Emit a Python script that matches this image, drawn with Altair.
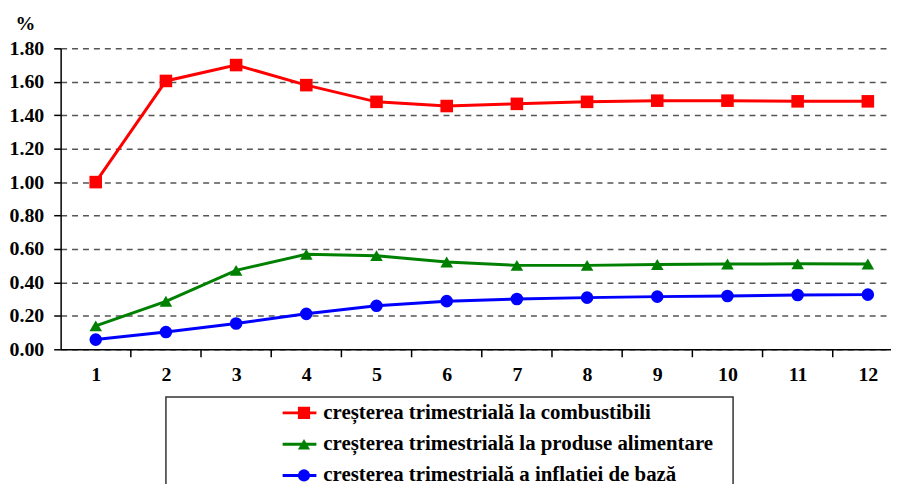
import altair as alt
import pandas as pd

categories = list(range(1, 13))
series_names = [
    "creșterea trimestrială la combustibili",
    "creșterea trimestrială la produse alimentare",
    "cresterea trimestrială a inflatiei de bază",
]
combustibili = [1.00, 1.605, 1.70, 1.58, 1.48, 1.455, 1.468, 1.48, 1.487, 1.487, 1.483, 1.483]
alimentare = [0.14, 0.287, 0.472, 0.568, 0.56, 0.522, 0.502, 0.502, 0.507, 0.51, 0.511, 0.51]
inflatie_baza = [0.058, 0.103, 0.154, 0.212, 0.26, 0.288, 0.301, 0.309, 0.315, 0.319, 0.325, 0.327]
y_ticks = [0.0, 0.2, 0.4, 0.6, 0.8, 1.0, 1.2, 1.4, 1.6, 1.8]

colors = ["#ff0000", "#008000", "#0000ff"]
shapes = ["square", "triangle-up", "circle"]

rows = []
for name, vals in zip(series_names, [combustibili, alimentare, inflatie_baza]):
    for c, v in zip(categories, vals):
        rows.append({"luna": c, "valoare": v, "serie": name})
df = pd.DataFrame(rows)

boundaries = pd.DataFrame({"b": [c + 0.5 for c in categories[:-1]]})

FONT = "Liberation Serif"
FS = 20

x_scale = alt.Scale(domain=[0.5, 12.33], nice=False, zero=False)
y_scale = alt.Scale(domain=[0, 1.8], nice=False)

x_axis = alt.Axis(
    values=categories, format="d", title=None, ticks=False, tickSize=0, grid=False,
    labelFont=FONT, labelFontSize=FS, labelFontWeight="bold", labelColor="#000",
    labelPadding=15, domainColor="#000", domainWidth=1.5, labelFlush=False,
    labelOverlap=False,
)
y_axis = alt.Axis(
    values=y_ticks, format=".2f", title="%", titleAngle=0, titleX=-36, titleY=-25,
    titleAlign="center", titleBaseline="middle", titleFont=FONT, titleFontSize=FS,
    titleFontWeight="bold", titleColor="#000",
    labelFont=FONT, labelFontSize=FS, labelFontWeight="bold", labelColor="#000",
    labelPadding=10, tickSize=7, tickColor="#000", tickWidth=1.5,
    domainColor="#000", domainWidth=1.5, labelOverlap=False,
    grid=True, gridDash=[6, 5], gridColor="#555", gridWidth=1.5,
)

legend_common = dict(
    orient="none", legendX=222, legendY=357, title=None, padding=0,
    clipHeight=20, rowPadding=10.5, labelFont=FONT, labelFontSize=21,
    labelFontWeight="bold", labelColor="#000", labelLimit=700,
)

base = alt.Chart(df)

lines = base.mark_line(strokeWidth=3).encode(
    x=alt.X("luna:Q", scale=x_scale, axis=x_axis),
    y=alt.Y("valoare:Q", scale=y_scale, axis=y_axis),
    stroke=alt.Stroke(
        "serie:N",
        scale=alt.Scale(domain=series_names, range=colors),
        sort=series_names,
        legend=alt.Legend(symbolType="stroke", symbolSize=1156, symbolStrokeWidth=3,
                          labelExpr="''", **legend_common),
    ),
)

points = base.mark_point(filled=True, size=160, opacity=1).encode(
    x=alt.X("luna:Q", scale=x_scale, axis=x_axis),
    y=alt.Y("valoare:Q", scale=y_scale, axis=y_axis),
    fill=alt.Fill(
        "serie:N",
        scale=alt.Scale(domain=series_names, range=colors),
        sort=series_names,
        legend=alt.Legend(symbolSize=150, symbolOffset=12.5, labelOffset=9,
                          symbolStrokeWidth=0, **legend_common),
    ),
    shape=alt.Shape(
        "serie:N",
        scale=alt.Scale(domain=series_names, range=shapes),
        sort=series_names,
        legend=alt.Legend(symbolSize=150, symbolOffset=12.5, labelOffset=9,
                          symbolStrokeWidth=0, **legend_common),
    ),
)

ticks = alt.Chart(boundaries).mark_rule(color="#000", strokeWidth=1.5).encode(
    x=alt.X("b:Q", scale=x_scale, axis=x_axis),
    y=alt.value(303),
    y2=alt.value(311),
)

legend_box = alt.Chart(pd.DataFrame({"k": [0]})).mark_rect(
    fill="transparent", stroke="#333", strokeWidth=1.5
).encode(
    x=alt.value(106), x2=alt.value(677), y=alt.value(351), y2=alt.value(470),
)

chart = alt.layer(ticks, lines, points, legend_box).resolve_legend(
    stroke="independent", fill="independent", shape="independent"
).properties(
    width=836, height=303,
    autosize=alt.AutoSizeParams(type="none"),
    padding={"left": 53, "top": 39, "right": 0, "bottom": 134},
    background="white",
).configure_view(stroke=None)

chart.save("out.html", embed_options={"renderer": "svg", "actions": False})
